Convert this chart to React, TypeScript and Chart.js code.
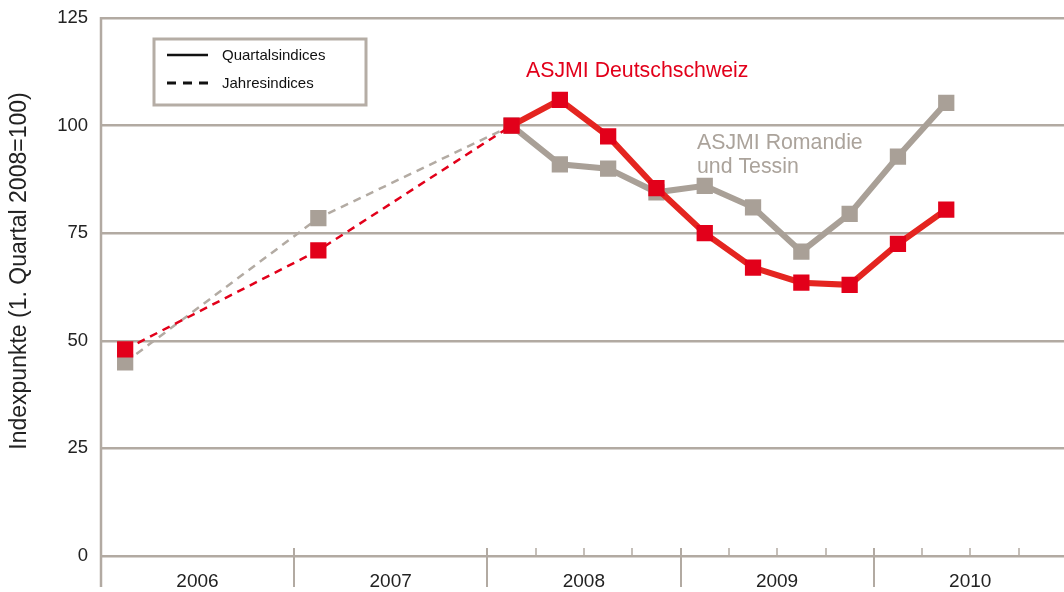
import React, { useEffect, useRef } from 'react';
import { Chart, registerables } from 'chart.js';

Chart.register(...registerables);

// ---- data ----
const years = ['2006', '2007', '2008', '2009', '2010'];
const quarterNames = ['Q1', 'Q2', 'Q3', 'Q4'];
const quarters = years.flatMap((y) => quarterNames.map((q) => `${y} ${q}`));
const quarterlyYears = ['2008', '2009', '2010'];
// annual indices sit on Q1 of 2006 / 2007, quarterly indices from 2008 Q1
const deutschschweiz = [48, null, null, null, 71, null, null, null, 100, 106, 97.5, 85.5, 75, 67, 63.5, 63, 72.5, 80.5, null, null];
const romandieTessin = [45, null, null, null, 78.5, null, null, null, 100, 91, 90, 84.5, 86, 81, 70.7, 79.5, 92.8, 105.3, null, null];
const firstQuarterlyIndex = 8;
const yTickValues = [0, 25, 50, 75, 100, 125];
const yTitle = 'Indexpunkte (1. Quartal 2008=100)';
const seriesLabels = ['ASJMI Deutschschweiz', 'ASJMI Romandie', 'und Tessin'];
const legendItems = ['Quartalsindices', 'Jahresindices'];

const FONT = '"Liberation Sans", Arial, Helvetica, sans-serif';
const RED = '#E2001A';
const RED_LINE = '#E42520';
const GRAY = '#A9A097';
const GRAY_DASH = '#B3ABA3';
const GRID = '#B2AAA2';
const TEXT = '#222222';

const decorPlugin = {
  id: 'decor',
  beforeDatasetsDraw(chart: any) {
    const { ctx, chartArea: a, scales } = chart;
    const x = scales.x;
    ctx.save();
    ctx.strokeStyle = GRID;
    ctx.lineCap = 'butt';
    // left axis
    ctx.lineWidth = 2.5;
    ctx.beginPath();
    ctx.moveTo(a.left, a.top - 1);
    ctx.lineTo(a.left, a.bottom + 31);
    ctx.stroke();
    // year dividers
    ctx.lineWidth = 2;
    years.forEach((_, k) => {
      if (k === 0) return;
      const px = Math.round(x.getPixelForValue(k * 4 - 0.5));
      ctx.beginPath();
      ctx.moveTo(px, a.bottom - 8);
      ctx.lineTo(px, a.bottom + 31);
      ctx.stroke();
    });
    // quarter ticks
    ctx.lineWidth = 1.5;
    quarterlyYears.forEach((yr) => {
      const k = years.indexOf(yr);
      for (let q = 1; q < 4; q++) {
        const px = Math.round(x.getPixelForValue(k * 4 + q - 0.5));
        ctx.beginPath();
        ctx.moveTo(px, a.bottom - 8);
        ctx.lineTo(px, a.bottom);
        ctx.stroke();
      }
    });
    ctx.restore();
  },
  afterDraw(chart: any) {
    const { ctx } = chart;
    ctx.save();
    // y title
    ctx.save();
    ctx.translate(19.5, 271);
    ctx.rotate(-Math.PI / 2);
    ctx.fillStyle = TEXT;
    ctx.font = `23px ${FONT}`;
    ctx.textAlign = 'center';
    ctx.textBaseline = 'middle';
    ctx.fillText(yTitle, 0, 0);
    ctx.restore();

    // legend box
    ctx.strokeStyle = '#B5ADA5';
    ctx.lineWidth = 3;
    ctx.strokeRect(154, 39, 212, 66);
    ctx.strokeStyle = '#111';
    ctx.lineWidth = 2.5;
    ctx.beginPath();
    ctx.moveTo(167, 55);
    ctx.lineTo(208, 55);
    ctx.stroke();
    ctx.lineWidth = 3;
    ctx.setLineDash([9, 7]);
    ctx.beginPath();
    ctx.moveTo(167, 83);
    ctx.lineTo(208, 83);
    ctx.stroke();
    ctx.setLineDash([]);
    ctx.fillStyle = '#111';
    ctx.font = `15px ${FONT}`;
    ctx.textAlign = 'left';
    ctx.textBaseline = 'middle';
    ctx.fillText(legendItems[0], 222, 56);
    ctx.fillText(legendItems[1], 222, 84);

    // series labels
    ctx.font = `21.3px ${FONT}`;
    ctx.fillStyle = RED;
    ctx.fillText(seriesLabels[0], 526, 71);
    ctx.fillStyle = '#ABA39B';
    ctx.fillText(seriesLabels[1], 697, 143);
    ctx.fillText(seriesLabels[2], 697, 167);
    ctx.restore();
  },
};

function makeDataset(label: string, data: (number | null)[], marker: string, line: string, dash: string) {
  return {
    label,
    data,
    spanGaps: true,
    borderColor: line,
    borderWidth: 6,
    backgroundColor: marker,
    pointStyle: 'rect',
    pointRadius: 11.5,
    pointBorderWidth: 0,
    pointBackgroundColor: marker,
    tension: 0,
    segment: {
      borderDash: (c: any) => (c.p1DataIndex <= firstQuarterlyIndex ? [8, 6] : undefined),
      borderWidth: (c: any) => (c.p1DataIndex <= firstQuarterlyIndex ? 2.5 : 6),
      borderColor: (c: any) => (c.p1DataIndex <= firstQuarterlyIndex ? dash : line),
    },
  };
}

export default function App() {
  const ref = useRef<HTMLCanvasElement>(null);
  useEffect(() => {
    document.body.style.margin = '0';
    document.documentElement.style.overflow = 'hidden';
    const chart = new Chart(ref.current as HTMLCanvasElement, {
      type: 'line',
      data: {
        labels: quarters,
        datasets: [
          makeDataset(seriesLabels[0], deutschschweiz, RED, RED_LINE, RED),
          makeDataset(seriesLabels[1] + ' ' + seriesLabels[2], romandieTessin, GRAY, GRAY, GRAY_DASH),
        ] as any,
      },
      options: {
        animation: false,
        responsive: false,
        layout: { autoPadding: false, padding: { top: 18, left: 0, right: 0, bottom: 0 } },
        plugins: { legend: { display: false }, tooltip: { enabled: false } },
        scales: {
          x: {
            type: 'category',
            offset: true,
            grid: { display: false },
            border: { display: false },
            ticks: {
              autoSkip: false,
              maxRotation: 0,
              minRotation: 0,
              labelOffset: 24,
              padding: 6,
              color: TEXT,
              font: { family: FONT, size: 19 },
              callback: (_v: any, i: number) => (i % 4 === 1 ? years[Math.floor(i / 4)] : ''),
            },
            afterFit: (s: any) => {
              s.height = 36;
              s.paddingLeft = 0;
              s.paddingRight = 0;
            },
          },
          y: {
            min: 0,
            max: 125,
            afterBuildTicks: (s: any) => {
              s.ticks = yTickValues.map((v) => ({ value: v }));
            },
            ticks: { padding: 13, color: TEXT, font: { family: FONT, size: 18.5 } },
            grid: { color: GRID, lineWidth: 2.5, drawTicks: false },
            border: { display: false },
            afterFit: (s: any) => {
              s.width = 101;
              s.paddingTop = 0;
              s.paddingBottom = 0;
            },
          },
        },
      },
      plugins: [decorPlugin],
    });
    return () => chart.destroy();
  }, []);
  return (
    <div style={{ width: 1064, height: 592, overflow: 'hidden', position: 'relative' }}>
      <canvas ref={ref} width={1067} height={592} style={{ display: 'block', width: 1067, height: 592 }} />
    </div>
  );
}
